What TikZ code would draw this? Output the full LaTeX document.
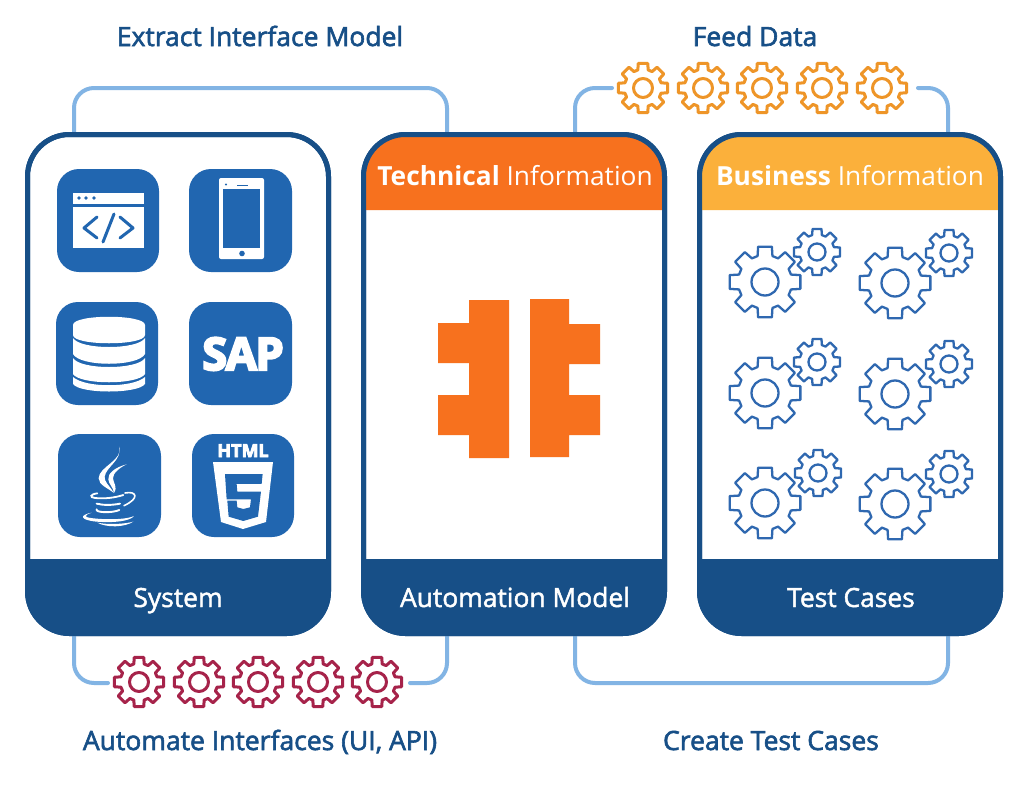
\documentclass[tikz,border=0pt]{standalone}
\usepackage{fontspec}
\setmainfont{Open Sans}
\newcommand{\strk}[2]{\special{pdf:code 2 Tr #1 w}#2\special{pdf:code 0 Tr 0 w}}
\definecolor{navy}{HTML}{174F87}
\definecolor{iconblue}{HTML}{2166B0}
\definecolor{linkblue}{HTML}{82B4E4}
\definecolor{techorange}{HTML}{F7711E}
\definecolor{bizamber}{HTML}{FBB03B}
\definecolor{feedorange}{HTML}{EE9528}
\definecolor{crimson}{HTML}{A6234A}
\definecolor{gearblue}{HTML}{2F68B0}
\newcommand{\gearat}[5]{%
  \begin{scope}[shift={(#1,#2)}]
  \draw[#5] ({90-16}:{#3*.75})
    \foreach \a in {90,135,...,405} {
      -- ({\a-16}:{#3*.75}) -- ({\a-11}:#3) -- ({\a+11}:#3) -- ({\a+16}:{#3*.75})
    } -- cycle;
  \draw[#5] (0,0) circle[radius=#4];
  \end{scope}}
\newcommand{\gearpair}[4]{\gearat{#1}{#2}{36}{13.5}{bluegear}\gearat{#3}{#4}{23.5}{8.5}{bluegear}}
\tikzset{
  cardbox/.style={draw=navy,line width=5pt,fill=white,rounded corners=42pt,minimum width=301pt,minimum height=499pt,inner sep=0pt,outer sep=0pt},
  cardline/.style={draw=navy,line width=5pt,rounded corners=42pt},
  link/.style={draw=linkblue,line width=4pt,line cap=round,rounded corners=20pt},
  outerlabel/.style={text=navy,anchor=base,font=\fontsize{26.5}{30}\selectfont},
  cardlabel/.style={text=white,anchor=base,font=\fontsize{26.4}{30}\selectfont},
  headlabel/.style={text=white,anchor=base,font=\fontsize{26.3}{30}\selectfont},
  iconbox/.style={fill=iconblue,rounded corners=22pt},
  bluegear/.style={draw=gearblue,line width=2.3pt,line join=round},
  feedgear/.style={draw=feedorange,line width=3pt,line join=round},
  autogear/.style={draw=crimson,line width=3pt,line join=round},
}
\begin{document}
\begin{tikzpicture}[x=1pt,y=-1pt]
\useasboundingbox (0,0) rectangle (1024,800);
\fill[white] (0,0) rectangle (1024,800);

% cards
\node[cardbox] (sys) at (178,384) {};
\node[cardbox] (auto) at (514,384) {};
\node[cardbox] (tests) at (850,384) {};

% bands
\fill[navy] (27,559) [rounded corners=42pt] -- (27,634) -- (329,634) [sharp corners] -- (329,559) -- cycle;
\fill[navy] (363,559) [rounded corners=42pt] -- (363,634) -- (665,634) [sharp corners] -- (665,559) -- cycle;
\fill[navy] (699,559) [rounded corners=42pt] -- (699,634) -- (1001,634) [sharp corners] -- (1001,559) -- cycle;
\fill[techorange] (363,210) [rounded corners=42pt] -- (363,134) -- (665,134) [sharp corners] -- (665,210) -- cycle;
\fill[bizamber] (699,210) [rounded corners=42pt] -- (699,134) -- (1001,134) [sharp corners] -- (1001,210) -- cycle;

% connectors
\coordinate (feedL) at (612,88);
\coordinate (feedR) at (918,88);
\coordinate (autoL) at (108,683);
\coordinate (autoR) at (410,683);
\draw[link] ([xshift=-104pt]sys.north) -- (74,88) -- (447,88) -- ([xshift=-67pt]auto.north);
\draw[link] ([xshift=61pt]auto.north) |- (feedL);
\draw[link] (feedR) -| ([xshift=98pt]tests.north);
\draw[link] ([xshift=-104pt]sys.south) |- (autoL);
\draw[link] (autoR) -| ([xshift=-67pt]auto.south);
\draw[link] ([xshift=61pt]auto.south) -- (575,683) -- (948,683) -- ([xshift=98pt]tests.south);

% card outlines over the connector ends
\draw[cardline] (sys.north west) rectangle (sys.south east);
\draw[cardline] (auto.north west) rectangle (auto.south east);
\draw[cardline] (tests.north west) rectangle (tests.south east);

% gears on connectors
\foreach \x in {643,703,762,822,882} {\gearat{\x}{88}{25}{9.5}{feedgear}}
\foreach \x in {139,199,258,318,377} {\gearat{\x}{682}{25}{9.5}{autogear}}

% blue gears
\gearpair{765}{282}{817}{252}
\gearpair{895}{283}{949}{253}
\gearpair{765}{393}{817}{362}
\gearpair{895}{394}{949}{364}
\gearpair{765}{503}{818}{473}
\gearpair{895}{504}{949}{474}

% plug shape
\fill[techorange] (469,300) -- (509,300) -- (509,458) -- (469,458) -- (469,435) -- (438,435) -- (438,395) -- (469,395) -- (469,363) -- (438,363) -- (438,323) -- (469,323) -- cycle;
\fill[techorange] (530,299) -- (569,299) -- (569,324) -- (600,324) -- (600,364) -- (569,364) -- (569,395) -- (600,395) -- (600,435) -- (569,435) -- (569,457) -- (530,457) -- cycle;

% icon tiles
\fill[iconbox] (57,169) rectangle (159,272);
\fill[iconbox] (189,169) rectangle (292,272);
\fill[iconbox] (56,302) rectangle (158,405);
\fill[iconbox] (189,302) rectangle (292,405);
\fill[iconbox] (58,434) rectangle (161,537);
\fill[iconbox] (192,434) rectangle (294,537);

% browser icon
\fill[white] (73,193) rectangle (144,204);
\fill[white] (73,207) rectangle (144,248);
\fill[iconblue] (79,198) circle[radius=1.8] (86,198) circle[radius=1.8] (94,198) circle[radius=1.8];
\draw[iconblue,line width=3pt,line cap=round,line join=round] (97,217) -- (84,228) -- (97,238);
\draw[iconblue,line width=3pt,line cap=round] (114,214) -- (103,242);
\draw[iconblue,line width=3pt,line cap=round,line join=round] (120,217) -- (133,228) -- (120,238);

% phone icon
\fill[white,rounded corners=2pt] (219,178) rectangle (264,259);
\fill[iconblue] (223,189) rectangle (260,248);
\fill[iconblue] (242,253.5) circle[radius=2.8] (226,184.5) circle[radius=1.2];
\draw[iconblue,line width=1pt] (237,185.5) -- (248,185.5);

% database icon
\fill[white] (73,325) .. controls (73,314) and (145,314) .. (145,325) -- (145,335) .. controls (145,346) and (73,346) .. (73,335) -- cycle;
\fill[white] (73,338) .. controls (80,350) and (138,350) .. (145,338) -- (145,354) .. controls (138,367) and (80,367) .. (73,354) -- cycle;
\fill[white] (73,358) .. controls (80,370) and (138,370) .. (145,358) -- (145,374) .. controls (138,385) and (80,385) .. (73,374) -- cycle;
\fill[white] (73,377) .. controls (85,388) and (133,388) .. (145,377) -- (145,384) .. controls (138,394) and (80,394) .. (73,384) -- cycle;

% SAP icon
\node[text=white,anchor=base,font=\bfseries\fontsize{45}{45}\selectfont,inner sep=0pt] (saptext) at (243,370) {\addfontfeature{LetterSpace=-3}\strk{2.2}{SAP}};

% java icon
\begin{scope}[shift={(40,410)},x=.3333pt,y=-.3333pt]
\fill[white] (237,110) .. controls (252,150) and (176,170) .. (176,205) .. controls (176,225) and (205,235) .. (222,249) .. controls (207,225) and (192,215) .. (194,200) .. controls (198,170) and (248,150) .. (237,110) -- cycle;
\fill[white] (260,163) .. controls (225,172) and (203,190) .. (205,208) .. controls (206,222) and (220,232) .. (222,249) .. controls (234,230) and (220,220) .. (219,205) .. controls (218,190) and (240,172) .. (260,163) -- cycle;
\draw[white,line width=1.8pt,line cap=round] (172,250) .. controls (150,253) and (148,262) .. (165,264) .. controls (195,267) and (225,263) .. (250,255);
\draw[white,line width=1.6pt,line cap=round] (255,249) .. controls (290,242) and (300,265) .. (252,287);
\draw[white,line width=1.9pt,line cap=round] (170,281) .. controls (190,286) and (215,286) .. (240,281);
\draw[white,line width=1.9pt,line cap=round] (170,298) .. controls (165,308) and (215,310) .. (238,300);
\fill[white] (155,308) .. controls (118,315) and (118,330) .. (170,335) .. controls (220,339) and (270,334) .. (282,318) .. controls (265,327) and (215,330) .. (170,326) .. controls (135,323) and (125,318) .. (155,308) -- cycle;
\fill[white] (172,338) .. controls (205,345) and (255,342) .. (280,335) .. controls (255,352) and (200,354) .. (172,338) -- cycle;
\end{scope}

% html5 icon
\node[text=white,anchor=base,font=\bfseries\fontsize{18}{18}\selectfont,inner sep=0pt] (htmltext) at (243,457) {\strk{.8}{HTML}};
\fill[white] (213,462) -- (273,462) -- (266,522) -- (243,529) -- (221,522) -- cycle;
\begin{scope}[shift={(40,410)},x=.3333pt,y=-.3333pt]
\fill[iconblue] (555,192) -- (668,192) -- (665,222) -- (590,222) -- (592,245) -- (663,245) -- (654,320) -- (610,333) -- (566,320) -- (562,272) -- (590,272) -- (592,292) -- (610,297) -- (630,292) -- (633,268) -- (560,268) -- cycle;
\end{scope}

% texts
\node[outerlabel] (t1) at (260,46) {\strk{.6}{Extract Interface Model}};
\node[outerlabel] (t2) at (755,46) {\strk{.6}{Feed Data}};
\node[outerlabel] (t3) at (260,750) {\strk{.6}{Automate Interfaces (UI, API)}};
\node[outerlabel] (t4) at (771,750) {\strk{.6}{Create Test Cases}};
\node[cardlabel] (l1) at (178,607) {\strk{.45}{System}};
\node[cardlabel] (l2) at (515,607) {\strk{.45}{Automation Model}};
\node[cardlabel] (l3) at (851,607) {\strk{.45}{Test Cases}};
\node[headlabel] (h1) at (515,185) {\textbf{Technical} Information};
\node[headlabel] (h2) at (850,185) {\textbf{Business} Information};
\end{tikzpicture}
\end{document}
